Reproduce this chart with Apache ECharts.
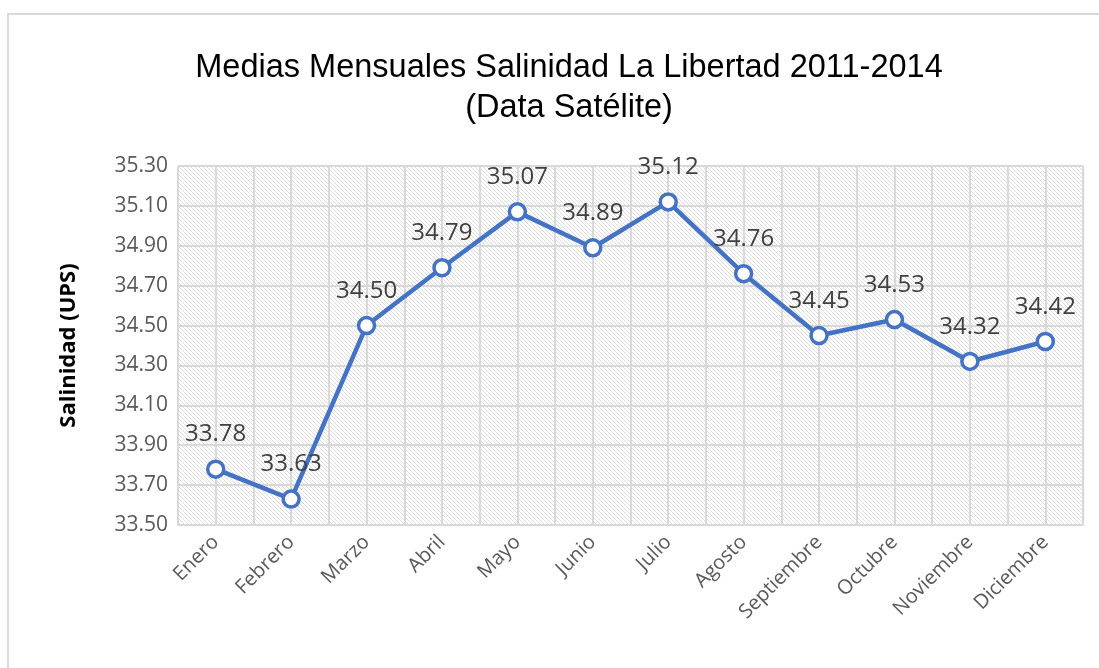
<!DOCTYPE html>
<html>
<head>
<meta charset="utf-8">
<script src="https://cdn.jsdelivr.net/npm/echarts@6/dist/echarts.min.js"></script>
<style>
  html, body { margin: 0; padding: 0; background: #fff; }
  #chart { width: 1099px; height: 668px; }
</style>
</head>
<body>
<div id="chart"></div>
<script>
const meses = ["Enero", "Febrero", "Marzo", "Abril", "Mayo", "Junio", "Julio",
  "Agosto", "Septiembre", "Octubre", "Noviembre", "Diciembre"];
const salinidad = [33.78, 33.63, 34.50, 34.79, 35.07, 34.89, 35.12, 34.76, 34.45, 34.53, 34.32, 34.42];
const yMin = 33.5;
const yMax = 35.3;
const yStep = 0.2;

// diagonal hatch for the plot area
const hatch = document.createElement("canvas");
hatch.width = 4;
hatch.height = 4;
const hctx = hatch.getContext("2d");
hctx.fillStyle = "#ffffff";
hctx.fillRect(0, 0, 4, 4);
hctx.fillStyle = "#dedede";
for (let i = 0; i < 4; i++) hctx.fillRect(i, i, 1, 1);

const chart = echarts.init(document.getElementById("chart"));

chart.setOption({
  animation: false,
  textStyle: { fontFamily: "Open Sans, sans-serif" },
  title: {
    text: "Medias Mensuales Salinidad La Libertad 2011-2014\n(Data Satélite)",
    left: 564,
    textAlign: "center",
    top: 43,
    textStyle: {
      fontFamily: "Liberation Sans, sans-serif",
      fontWeight: "normal",
      fontSize: 32.5,
      lineHeight: 40,
      color: "#000"
    }
  },
  graphic: [{
    type: "rect",
    shape: { x: 8, y: 14, width: 1200, height: 800 },
    style: { fill: null, stroke: "#d9d9d9", lineWidth: 2 },
    silent: true
  }],
  grid: {
    left: 178,
    right: 16,
    top: 166,
    bottom: 143,
    show: true,
    backgroundColor: { image: hatch, repeat: "repeat" },
    borderColor: "#d9d9d9",
    borderWidth: 1
  },
  xAxis: [{
    type: "category",
    data: meses,
    boundaryGap: true,
    axisLine: { lineStyle: { color: "#d9d9d9", width: 2 } },
    axisTick: { show: false },
    splitLine: { show: true, lineStyle: { color: "#d9d9d9", width: 2 } },
    axisLabel: {
      rotate: 45,
      fontSize: 20,
      color: "#595959",
      margin: 14,
      interval: 0
    }
  }, {
    // extra split lines through each category centre
    type: "value",
    min: 0,
    max: meses.length * 2,
    interval: 1,
    show: true,
    axisLine: { show: false },
    axisTick: { show: false },
    axisLabel: { show: false },
    splitLine: { show: true, lineStyle: { color: "#d9d9d9", width: 2 } }
  }],
  yAxis: {
    type: "value",
    min: yMin,
    max: yMax,
    interval: yStep,
    name: "Salinidad (UPS)",
    nameLocation: "middle",
    nameGap: 98,
    nameRotate: 90,
    nameTextStyle: { fontSize: 22, fontWeight: "bold", color: "#000" },
    axisLine: { show: false },
    axisTick: { show: false },
    splitLine: { lineStyle: { color: "#d9d9d9", width: 2 } },
    axisLabel: {
      fontSize: 21,
      color: "#595959",
      margin: 10,
      formatter: (v) => v.toFixed(2)
    }
  },
  series: [{
    type: "line",
    data: salinidad,
    xAxisIndex: 0,
    symbol: "circle",
    symbolSize: 16,
    lineStyle: { color: "#4472C4", width: 4.5 },
    itemStyle: { color: "#ffffff", borderColor: "#4472C4", borderWidth: 3.5 },
    label: {
      show: true,
      position: "top",
      distance: 13,
      fontSize: 24,
      color: "#404040",
      formatter: (p) => p.value.toFixed(2)
    },
    z: 5
  }]
});
</script>
</body>
</html>
